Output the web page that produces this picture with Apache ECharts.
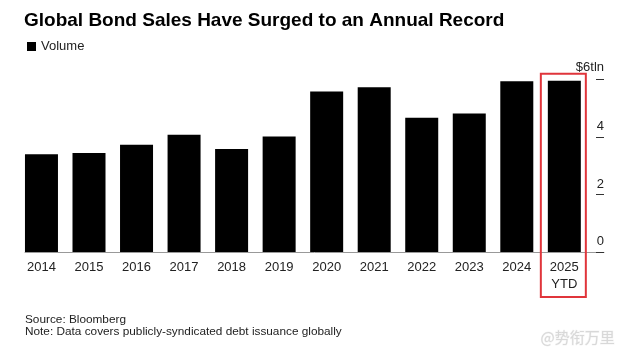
<!DOCTYPE html>
<html>
<head>
<meta charset="utf-8">
<script src="https://cdn.jsdelivr.net/npm/echarts@6/dist/echarts.min.js"></script>
<style>
html,body{margin:0;padding:0;background:#fff;}
#main{width:623px;height:356px;}
</style>
</head>
<body>
<div id="main"></div>
<script>
const categories = ['2014','2015','2016','2017','2018','2019','2020','2021','2022','2023','2024','2025\nYTD'];
const volume = [3.40, 3.44, 3.73, 4.08, 3.58, 4.02, 5.58, 5.73, 4.67, 4.82, 5.94, 5.96];
const yTickValues = [0, 2, 4, 6];
const yTickLabels = ['0', '2', '4', '$6tln'];
const titleText = 'Global Bond Sales Have Surged to an Annual Record';
const seriesName = 'Volume';
const sourceLines = ['Source: Bloomberg', 'Note: Data covers publicly-syndicated debt issuance globally'];
const watermark = '@势衔万里';
const highlightCategory = '2025\nYTD';

const FONT = "'Liberation Sans', Arial, Helvetica, sans-serif";
const chart = echarts.init(document.getElementById('main'), null, {renderer: 'canvas'});

const option = {
  backgroundColor: '#fff',
  animation: false,
  textStyle: {fontFamily: FONT},
  title: {
    text: titleText,
    left: 19, top: 6,
    textStyle: {fontFamily: FONT, fontSize: 19, fontWeight: 'bold', color: '#000'}
  },
  legend: {
    data: [seriesName],
    left: 22, top: 35,
    icon: 'rect', itemWidth: 9, itemHeight: 9,
    textStyle: {fontFamily: FONT, fontSize: 13, color: '#222'}
  },
  grid: [
    {left: 17.7, right: 623 - 588.1, top: 79.5, bottom: 104, containLabel: false},
    {left: 25, right: 19, top: 79.5, bottom: 104, containLabel: false}
  ],
  xAxis: [
    {
      type: 'category', gridIndex: 0, data: categories,
      axisLine: {show: false}, axisTick: {show: false},
      axisLabel: {fontFamily: FONT, fontSize: 13, color: '#222', margin: 7, lineHeight: 17, interval: 0}
    },
    {
      type: 'value', gridIndex: 1, min: 0, max: 1,
      axisLine: {show: true, onZero: false, lineStyle: {color: '#999', width: 1}},
      axisTick: {show: false}, axisLabel: {show: false}, splitLine: {show: false}
    }
  ],
  yAxis: [
    {
      type: 'value', gridIndex: 0, min: 0, max: 6, interval: 2,
      show: false
    },
    {
      type: 'value', gridIndex: 1, min: 0, max: 6, interval: 2, position: 'right',
      axisLine: {show: false, onZero: false},
      axisTick: {show: true, inside: true, length: 8, lineStyle: {color: '#333', width: 1}},
      splitLine: {show: false},
      axisLabel: {
        inside: true, margin: 0, align: 'right', verticalAlign: 'bottom',
        padding: [0, 0, 4, 0],
        fontFamily: FONT, fontSize: 13, color: '#222',
        formatter: function (v) {
          const i = yTickValues.indexOf(v);
          if (i < 0) return '';
          return i === yTickValues.length - 1 ? '{t|' + yTickLabels[i] + '}' : yTickLabels[i];
        },
        rich: {
          t: {fontFamily: FONT, fontSize: 13, color: '#222', padding: [0, 0, 2, 0]}
        }
      }
    }
  ],
  series: [
    {
      name: seriesName, type: 'bar', xAxisIndex: 0, yAxisIndex: 0,
      data: volume, barWidth: 33,
      itemStyle: {color: '#000'}
    }
  ],
  graphic: []
};
chart.setOption(option);

// Red highlight box around the latest category, positioned from the axis scale
const p0 = chart.convertToPixel({xAxisIndex: 0, yAxisIndex: 0}, [highlightCategory, 0]);
const pTop = chart.convertToPixel({xAxisIndex: 0, yAxisIndex: 0}, [highlightCategory, 6.2]);
const graphics = [
  {
    type: 'rect', z: 100,
    shape: {x: p0[0] - 23.5, y: pTop[1], width: 45, height: (p0[1] + 45) - pTop[1]},
    style: {fill: 'none', stroke: '#e0353b', lineWidth: 2}
  },
  {
    type: 'text', left: 25, top: 313,
    style: {text: sourceLines.join('\n'), font: '11.8px ' + FONT, fill: '#222', lineHeight: 12.5}
  },
  {
    type: 'text', left: 540, top: 329,
    style: {text: watermark, font: '15px "Noto Sans CJK SC", sans-serif', fill: '#d8d8d8', stroke: '#f4f4f4', lineWidth: 1}
  }
];
chart.setOption({graphic: graphics});
</script>
</body>
</html>
